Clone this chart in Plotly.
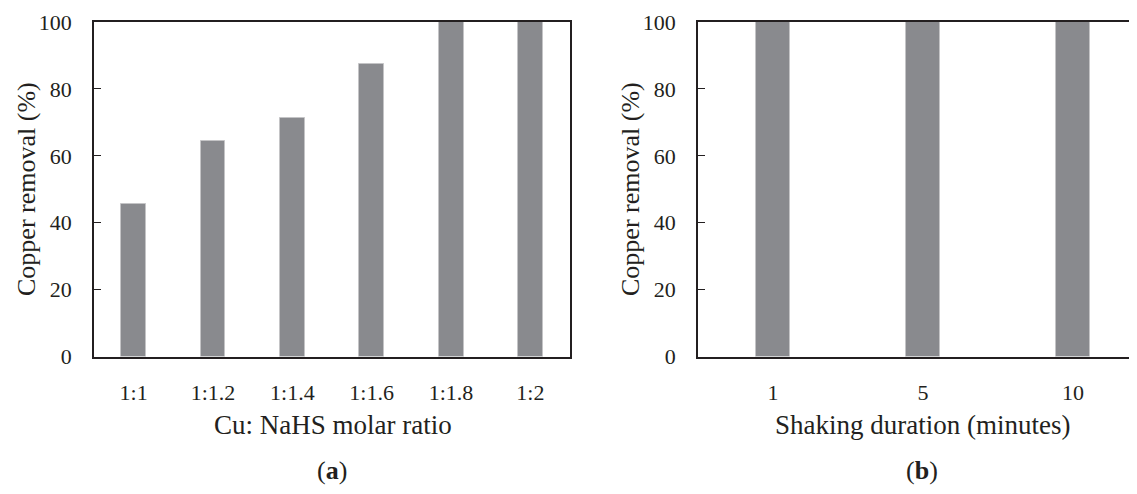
import plotly.graph_objects as go

# Panel (a)
ratio_labels = ["1:1", "1:1.2", "1:1.4", "1:1.6", "1:1.8", "1:2"]
removal_a = [45.5, 64.5, 71.3, 87.3, 100, 100]

# Panel (b)
duration_labels = ["1", "5", "10"]
removal_b = [100, 100, 100]

y_ticks = [0, 20, 40, 60, 80, 100]

W, H = 1137, 494
OFF = 8  # page body margin offset
FONT = "Liberation Serif"
INK = "#231f20"
BAR = "#898a8e"
EDGE = "#c4c4c6"

def px(x):
    return (x - OFF) / W

def py(y):
    return 1 - (y - OFF) / H

fig = go.Figure()
fig.add_trace(go.Bar(x=ratio_labels, y=removal_a, width=0.315,
                     marker=dict(color=BAR, line=dict(color=EDGE, width=1)),
                     xaxis="x", yaxis="y", showlegend=False))
fig.add_trace(go.Bar(x=duration_labels, y=removal_b, width=0.227,
                     marker=dict(color=BAR, line=dict(color=EDGE, width=1)),
                     xaxis="x2", yaxis="y2", showlegend=False))

ydom = [py(356.5), py(22)]
axis_common = dict(showline=True, linecolor=INK, linewidth=1.6, showgrid=False,
                   zeroline=False, automargin=False,
                   tickfont=dict(family=FONT, size=22, color=INK))

right_edge = W + OFF  # screen x of figure's right edge
fig.update_layout(
    width=W, height=H,
    margin=dict(l=0, r=0, t=0, b=0, pad=0),
    paper_bgcolor="white", plot_bgcolor="white",
    font=dict(family=FONT, color=INK),
    bargap=0,
    xaxis=dict(domain=[px(94), px(570)], type="category", range=[-0.5, 5.5],
               ticks="", mirror=True, anchor="y", ticklabelstandoff=15, **axis_common),
    yaxis=dict(domain=ydom, range=[0, 100], tickvals=y_ticks, ticks="inside",
               ticklen=7, tickcolor=INK, tickwidth=1.4, mirror=True, anchor="x",
               ticklabelstandoff=16, **axis_common),
    xaxis2=dict(domain=[px(698), 1.0], type="category",
                range=[-0.5, -0.5 + (right_edge - 698) / 150.0],
                ticks="", mirror=True, anchor="y2", ticklabelstandoff=15, **axis_common),
    yaxis2=dict(domain=ydom, range=[0, 100], tickvals=y_ticks, ticks="inside",
                ticklen=7, tickcolor=INK, tickwidth=1.4, mirror=False, anchor="x2",
                ticklabelstandoff=16, **axis_common),
)

ytitle_font = dict(family=FONT, size=26, color=INK)
xtitle_font = dict(family=FONT, size=27, color=INK)
label_font = dict(family=FONT, size=26, color=INK)
annotations = [
    dict(text="Copper removal (%)", x=px(27), y=py(189), textangle=-90, font=ytitle_font),
    dict(text="Copper removal (%)", x=px(631), y=py(189), textangle=-90, font=ytitle_font),
    dict(text="Cu: NaHS molar ratio", x=px(333), y=py(425), font=xtitle_font),
    dict(text="Shaking duration (minutes)", x=px(922), y=py(425), font=xtitle_font),
    dict(text="(<b>a</b>)", x=px(332), y=py(470), font=label_font),
    dict(text="(<b>b</b>)", x=px(922), y=py(470), font=label_font),
]
for a in annotations:
    fig.add_annotation(xref="paper", yref="paper", showarrow=False,
                       xanchor="center", yanchor="middle", **a)

fig.write_html("out.html")
